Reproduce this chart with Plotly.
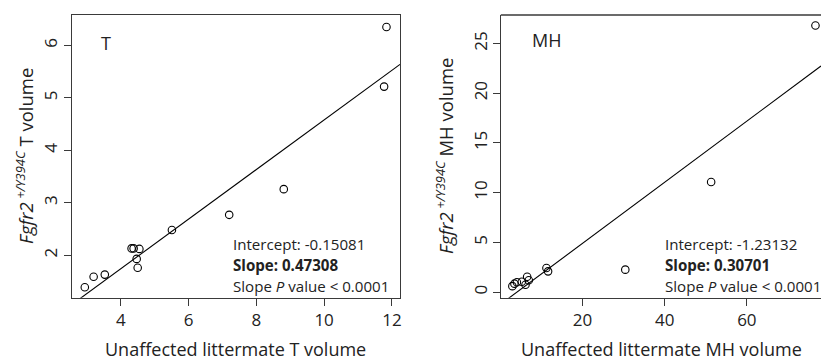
import plotly.graph_objects as go

W, H = 823, 359

# ---------------- data ----------------
t_unaffected = [2.94, 3.20, 3.53, 4.32, 4.38, 4.55, 4.47, 4.50, 5.51, 7.20, 8.81, 11.77, 11.84]
t_mutant     = [1.39, 1.59, 1.63, 2.13, 2.13, 2.12, 1.93, 1.76, 2.48, 2.77, 3.26, 5.215, 6.35]
t_intercept, t_slope = -0.15081, 0.47308

mh_unaffected = [2.9, 3.4, 4.0, 5.2, 6.1, 6.5, 6.9, 11.2, 11.6, 30.4, 51.3, 76.7]
mh_mutant     = [0.6, 0.85, 1.0, 1.05, 0.74, 1.55, 1.2, 2.42, 2.09, 2.26, 11.07, 26.8]
mh_intercept, mh_slope = -1.23132, 0.30701

t_xticks = [4, 6, 8, 10, 12]
t_yticks = [2, 3, 4, 5, 6]
mh_xticks = [20, 40, 60]
mh_yticks = [0, 5, 10, 15, 20, 25]

# ---------------- layout helpers ----------------
def px(x):
    return x / W

def py(y):
    return 1 - y / H

FONT = "Open Sans"
LINE = "#3a3a3a"

t_xr = [2.557, 12.24]
t_yr = [1.19, 6.58]
mh_xr = [0.25, 78.05]
mh_yr = [-0.56, 27.86]

fig = go.Figure()

marker = dict(symbol="circle-open", size=7.5, color="black", line=dict(width=1.1, color="black"))

fig.add_trace(go.Scatter(x=t_unaffected, y=t_mutant, mode="markers", marker=marker,
                         xaxis="x", yaxis="y", showlegend=False, cliponaxis=False))
fig.add_trace(go.Scatter(x=t_xr, y=[t_intercept + t_slope * v for v in t_xr], mode="lines",
                         line=dict(color="black", width=1.1), xaxis="x", yaxis="y", showlegend=False))

fig.add_trace(go.Scatter(x=mh_unaffected, y=mh_mutant, mode="markers", marker=marker,
                         xaxis="x2", yaxis="y2", showlegend=False, cliponaxis=False))
fig.add_trace(go.Scatter(x=mh_xr, y=[mh_intercept + mh_slope * v for v in mh_xr], mode="lines",
                         line=dict(color="black", width=1.1), xaxis="x2", yaxis="y2", showlegend=False))

ydom = [py(297.7), py(15)]
tickfont = dict(family=FONT, size=17, color="#222")

common_axis = dict(showgrid=False, zeroline=False, ticks="outside", ticklen=7, tickwidth=1,
                   tickcolor=LINE, linecolor=LINE, linewidth=1.3, showline=True, tickfont=tickfont)

fig.update_layout(
    width=W, height=H,
    margin=dict(l=0, r=0, t=0, b=0),
    paper_bgcolor="white", plot_bgcolor="white",
    font=dict(family=FONT, color="#222"),
    xaxis=dict(domain=[px(72), px(401)], range=t_xr, tickvals=t_xticks, anchor="y",
               mirror=True, **common_axis),
    yaxis=dict(domain=ydom, range=t_yr, tickvals=t_yticks, anchor="x", tickangle=-90,
               mirror=True, **common_axis),
    xaxis2=dict(domain=[px(502.7), 1.0], range=mh_xr, tickvals=mh_xticks, anchor="y2",
                **common_axis),
    yaxis2=dict(domain=ydom, range=mh_yr, tickvals=mh_yticks, anchor="x2", tickangle=-90,
                **common_axis),
)

# top border of right panel (right edge cut off by the image)
fig.add_shape(type="line", xref="paper", yref="paper", x0=px(502.7) - 0.0008, x1=1.0,
              y0=ydom[1], y1=ydom[1], line=dict(color=LINE, width=1.3))

ann = []

def text(x, y, s, size=14, xanchor="left", yanchor="middle", angle=0):
    ann.append(dict(x=px(x), y=py(y), xref="paper", yref="paper", text=s, showarrow=False,
                    xanchor=xanchor, yanchor=yanchor, textangle=angle,
                    font=dict(family=FONT, size=size, color="#222")))

# panel labels
text(99, 43, "T", size=18)
text(531, 40, "MH", size=18)

# stats text
for x0, a, b in [(232, "-0.15081", "0.47308"), (664.5, "-1.23132", "0.30701")]:
    text(x0, 243.5, f"Intercept: {a}", size=15.1)
    text(x0, 264.5, f"<b>Slope: {b}</b>", size=15.1)
    text(x0, 285.5, "Slope <i>P</i> value &lt; 0.0001", size=15.1)

# axis titles
text(236.5, 349, "Unaffected littermate T volume", size=18, xanchor="center")
text(663, 349, "Unaffected littermate MH volume", size=18, xanchor="center")
text(24, 156, "<i>Fgfr2</i><sup><i> +/Y394C</i></sup> T volume", size=18.5, xanchor="center", angle=-90)
text(445, 156, "<i>Fgfr2</i><sup><i> +/Y394C</i></sup> MH volume", size=18.5, xanchor="center", angle=-90)

fig.update_layout(annotations=ann)

fig.write_html("out.html", config={"displayModeBar": False},
               post_script="document.body.style.margin='0';document.body.style.overflow='hidden';")
